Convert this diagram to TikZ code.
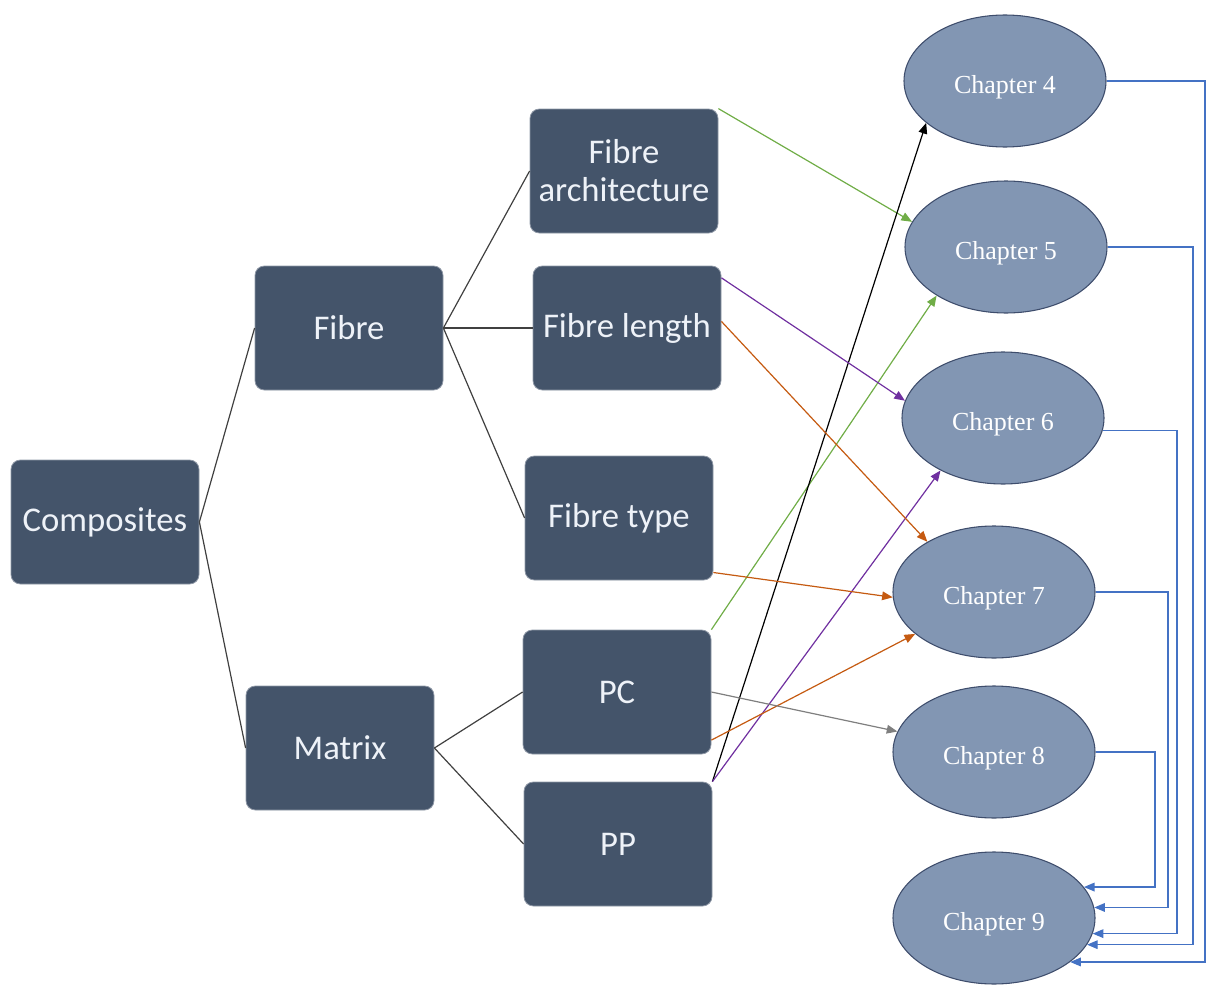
\documentclass[tikz,border=0pt]{standalone}
\usepackage{fontspec}
\newfontfamily\boxfont{Carlito}
\newfontfamily\chfont{Liberation Serif}
\usetikzlibrary{shapes.geometric,arrows.meta}
\definecolor{boxcol}{HTML}{44546A}
\definecolor{boxtxt}{HTML}{EEF2F8}
\definecolor{ellcol}{HTML}{8296B3}
\definecolor{elldraw}{HTML}{3E4D6C}
\definecolor{lnk}{HTML}{404040}
\definecolor{cgreen}{HTML}{70AD47}
\definecolor{cpurple}{HTML}{7030A0}
\definecolor{corange}{HTML}{C55A11}
\definecolor{cgray}{HTML}{7F7F7F}
\definecolor{cblue}{HTML}{4472C4}
\tikzset{
  topic/.style={rectangle, rounded corners=7pt, fill=boxcol, draw=boxcol!60!white, line width=0.6pt,
    minimum width=141pt, minimum height=93pt, inner sep=2pt, text=boxtxt,
    font=\boxfont\fontsize{26}{28.5}\selectfont, align=center},
  chap/.style={ellipse, fill=ellcol, draw=elldraw, line width=0.8pt,
    minimum width=151.5pt, minimum height=99pt, inner sep=0pt, text=white,
    font=\chfont\fontsize{19.5}{22}\selectfont},
  tree/.style={draw=lnk, line width=0.9pt},
  link/.style={line width=0.9pt, -{Triangle[length=8pt,width=6.5pt]}},
  back/.style={draw=cblue, line width=0.9pt, -{Triangle[length=8pt,width=6.5pt]}}
}
\newcommand{\chtext}[1]{\raisebox{-9pt}[0pt][0pt]{#1}}
\begin{document}
\begin{tikzpicture}[x=0.75pt,y=-0.75pt]
\useasboundingbox (0,0) rectangle (1208,985);
% boxes
\node[topic] (comp) at (105,522) {Composites};
\node[topic] (fibre) at (349,328) {Fibre};
\node[topic] (matrix) at (340,748) {Matrix};
\node[topic] (fa) at (624,171) {Fibre\\architecture};
\node[topic] (fl) at (627,328) {Fibre length};
\node[topic] (ft) at (619,518) {Fibre type};
\node[topic] (pc) at (617,692) {PC};
\node[topic] (pp) at (618,844) {PP};
% ellipses
\node[chap] (c4) at (1005,81) {\chtext{Chapter 4}};
\node[chap] (c5) at (1006,247) {\chtext{Chapter 5}};
\node[chap] (c6) at (1003,418) {\chtext{Chapter 6}};
\node[chap] (c7) at (994,592) {\chtext{Chapter 7}};
\node[chap] (c8) at (994,752) {\chtext{Chapter 8}};
\node[chap] (c9) at (994,918) {\chtext{Chapter 9}};
% tree lines
\draw[tree] (comp.east) -- (fibre.west);
\draw[tree] (comp.east) -- (matrix.west);
\draw[tree] (fibre.east) -- (fa.west);
\draw[tree] (fibre.east) -- (fl.west);
\draw[tree] (fibre.east) -- (ft.west);
\draw[tree] (matrix.east) -- (pc.west);
\draw[tree] (matrix.east) -- (pp.west);
% coloured links
\draw[link, cgreen] (fa.north east) -- (c5.165);
\draw[link, cgreen] (pc.north east) -- (c5.215);
\draw[link, black] (pp.north east) -- (c4.208.7);
\draw[link, cpurple] (fl.28) -- (c6.170.5);
\draw[link, cpurple] (pp.north east) -- (c6.220.4);
\draw[link, corange] (fl.4) -- (c7.143.3);
\draw[link, corange] (ft.-30) -- (c7.183);
\draw[link, corange] (pc.-27) -- (c7.208);
\draw[link, cgray] (pc.east) -- (c8.168.6);
% links to chapter 9
\coordinate (r4) at (1205,0);
\coordinate (r5) at (1193,0);
\coordinate (r6) at (1177,0);
\coordinate (r7) at (1168,0);
\coordinate (r8) at (1155,0);
\draw[back] (c4.east) -- (c4.east -| r4) |- (c9.-30.6);
\draw[back] (c5.east) -- (c5.east -| r5) |- (c9.-16.5);
\draw[back] (c6.-7) -- (c6.-7 -| r6) |- (c9.-9);
\draw[back] (c7.east) -- (c7.east -| r7) |- (c9.6);
\draw[back] (c8.east) -- (c8.east -| r8) |- (c9.19);
\end{tikzpicture}
\end{document}
